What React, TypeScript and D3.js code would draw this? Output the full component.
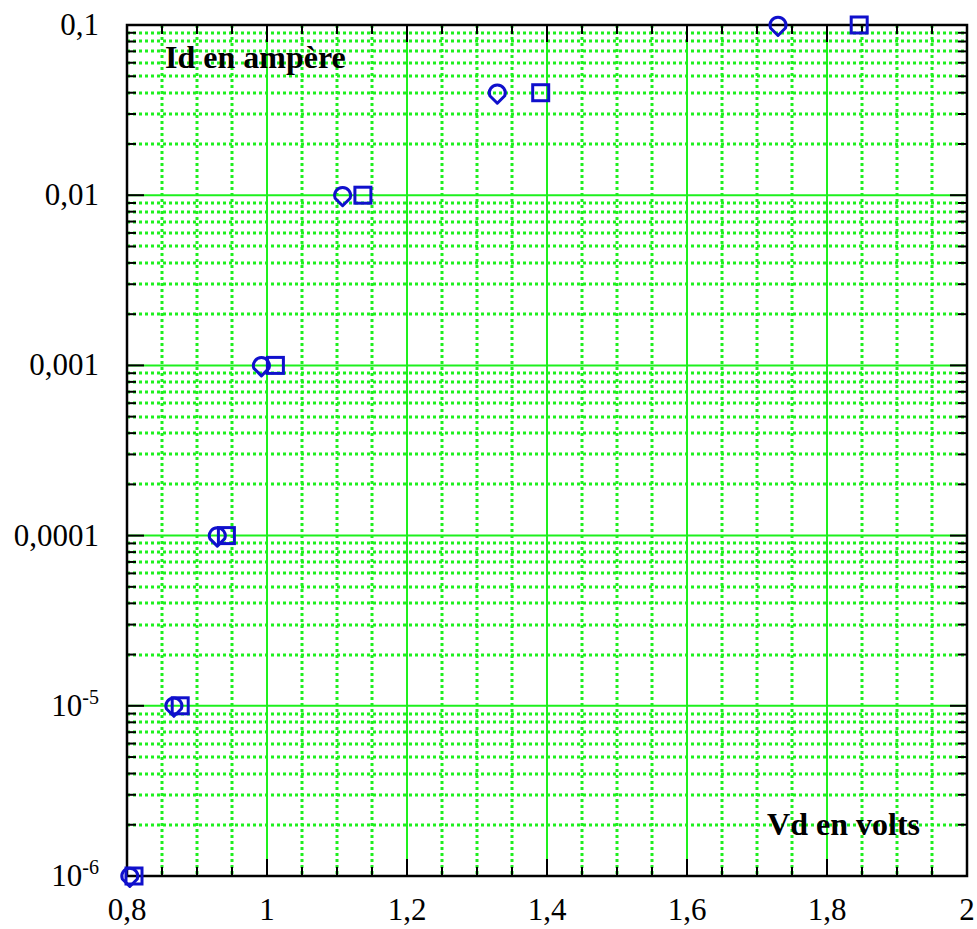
import React, { useEffect, useRef } from "react";
import * as d3 from "d3";

// circles and squares
const circleVd = [0.804, 0.867, 0.929, 0.992, 1.108, 1.329, 1.73];
const circleId = [1e-6, 1e-5, 1e-4, 1e-3, 1e-2, 0.04, 0.1];
const squareVd = [0.81, 0.876, 0.942, 1.012, 1.137, 1.391, 1.846];
const squareId = [1e-6, 1e-5, 1e-4, 1e-3, 1e-2, 0.04, 0.1];

const xTicks = [0.8, 1, 1.2, 1.4, 1.6, 1.8, 2];
const xTickLabels = ["0,8", "1", "1,2", "1,4", "1,6", "1,8", "2"];
const yTicks = [0.1, 0.01, 0.001, 0.0001, 1e-5, 1e-6];
const yTickLabels = ["0,1", "0,01", "0,001", "0,0001", "10|-5", "10|-6"];

const W = 977;
const H = 929;

export default function App() {
  const ref = useRef<SVGSVGElement>(null);

  useEffect(() => {
    const svg = d3.select(ref.current);
    svg.selectAll("*").remove();

    const left = 127, right = 967, top = 25, bottom = 876;
    const x = d3.scaleLinear().domain([0.8, 2]).range([left, right]);
    const y = d3.scaleLog().domain([1e-6, 0.1]).range([bottom, top]);
    const green = "#1ef01e";
    const font = "'Liberation Serif', 'Times New Roman', serif";

    // minor values
    const xMinor = d3.range(0.85, 2, 0.05).filter(v => Math.abs(v * 5 - Math.round(v * 5)) > 1e-6);
    const xMajorInner = [1, 1.2, 1.4, 1.6, 1.8];
    const yMinor: number[] = [];
    [1e-6, 1e-5, 1e-4, 1e-3, 1e-2].forEach(d => {
      for (let k = 2; k <= 9; k++) yMinor.push(d * k);
    });
    const yMajorInner = [1e-5, 1e-4, 1e-3, 1e-2];

    const grid = svg.append("g");
    // dotted minor grid
    grid.selectAll(".vminor").data(xMinor).join("line")
      .attr("x1", d => Math.round(x(d))).attr("x2", d => Math.round(x(d))).attr("y1", top).attr("y2", bottom)
      .attr("stroke", green).attr("stroke-width", 3).attr("stroke-dasharray", "3,3");
    grid.selectAll(".hminor").data(yMinor).join("line")
      .attr("x1", left).attr("x2", right).attr("y1", d => Math.round(y(d))).attr("y2", d => Math.round(y(d)))
      .attr("stroke", green).attr("stroke-width", 3).attr("stroke-dasharray", "3,3");
    // solid major grid
    grid.selectAll(".vmajor").data(xMajorInner).join("line")
      .attr("x1", d => x(d)).attr("x2", d => x(d)).attr("y1", top).attr("y2", bottom)
      .attr("stroke", green).attr("stroke-width", 2);
    grid.selectAll(".hmajor").data(yMajorInner).join("line")
      .attr("x1", left).attr("x2", right).attr("y1", d => y(d)).attr("y2", d => y(d))
      .attr("stroke", green).attr("stroke-width", 2);

    // ticks on all four sides, pointing inward
    const tk = svg.append("g").attr("stroke", "black").attr("stroke-width", 2);
    const majLen = 17, minLen = 9;
    xTicks.forEach(v => {
      tk.append("line").attr("x1", x(v)).attr("x2", x(v)).attr("y1", bottom).attr("y2", bottom - majLen);
      tk.append("line").attr("x1", x(v)).attr("x2", x(v)).attr("y1", top).attr("y2", top + majLen);
    });
    xMinor.forEach(v => {
      tk.append("line").attr("x1", x(v)).attr("x2", x(v)).attr("y1", bottom).attr("y2", bottom - minLen);
      tk.append("line").attr("x1", x(v)).attr("x2", x(v)).attr("y1", top).attr("y2", top + minLen);
    });
    yTicks.forEach(v => {
      tk.append("line").attr("x1", left).attr("x2", left + majLen).attr("y1", y(v)).attr("y2", y(v));
      tk.append("line").attr("x1", right).attr("x2", right - majLen).attr("y1", y(v)).attr("y2", y(v));
    });
    yMinor.forEach(v => {
      tk.append("line").attr("x1", left).attr("x2", left + minLen).attr("y1", y(v)).attr("y2", y(v));
      tk.append("line").attr("x1", right).attr("x2", right - minLen).attr("y1", y(v)).attr("y2", y(v));
    });

    // frame
    svg.append("rect").attr("x", left).attr("y", top).attr("width", right - left).attr("height", bottom - top)
      .attr("fill", "none").attr("stroke", "black").attr("stroke-width", 2.5);

    // tick labels
    svg.append("g").selectAll("text").data(xTicks).join("text")
      .attr("x", d => x(d)).attr("y", 920).attr("text-anchor", "middle")
      .attr("font-family", font).attr("font-size", 31)
      .text((d, i) => xTickLabels[i]);

    yTicks.forEach((v, i) => {
      const lab = yTickLabels[i];
      const t = svg.append("text").attr("x", 99).attr("y", y(v) + 10).attr("text-anchor", "end")
        .attr("font-family", font).attr("font-size", 31);
      if (lab.includes("|")) {
        const [base, sup] = lab.split("|");
        t.append("tspan").text(base);
        t.append("tspan").attr("dy", -12).attr("font-size", 20).text(sup);
      } else {
        t.text(lab);
      }
    });

    // axis titles
    svg.append("text").attr("x", 165).attr("y", 68).attr("font-family", font)
      .attr("font-size", 32).attr("font-weight", "bold").text("Id en ampère");
    svg.append("text").attr("x", 920).attr("y", 835).attr("text-anchor", "end").attr("font-family", font)
      .attr("font-size", 32).attr("font-weight", "bold").text("Vd en volts");

    const blue = "#1010cc";
    // squares
    svg.append("g").selectAll("rect").data(squareVd).join("rect")
      .attr("x", d => x(d) - 8).attr("y", (d, i) => y(squareId[i]) - 8)
      .attr("width", 16).attr("height", 16)
      .attr("fill", "none").attr("stroke", blue).attr("stroke-width", 3);
    // circles (drawn as the rounded, pointed marker)
    svg.append("g").selectAll("path").data(circleVd).join("path")
      .attr("transform", (d, i) => `translate(${x(d)},${y(circleId[i])})`)
      .attr("d", "M -7.5,3 A 8 8 0 1 1 7.5,3 L 0,10.5 Z")
      .attr("fill", "none").attr("stroke", blue).attr("stroke-width", 3).attr("stroke-linejoin", "round");
  }, []);

  return (
    <svg ref={ref} width={W} height={H} style={{ position: "absolute", left: 0, top: 0, background: "white" }} />
  );
}
